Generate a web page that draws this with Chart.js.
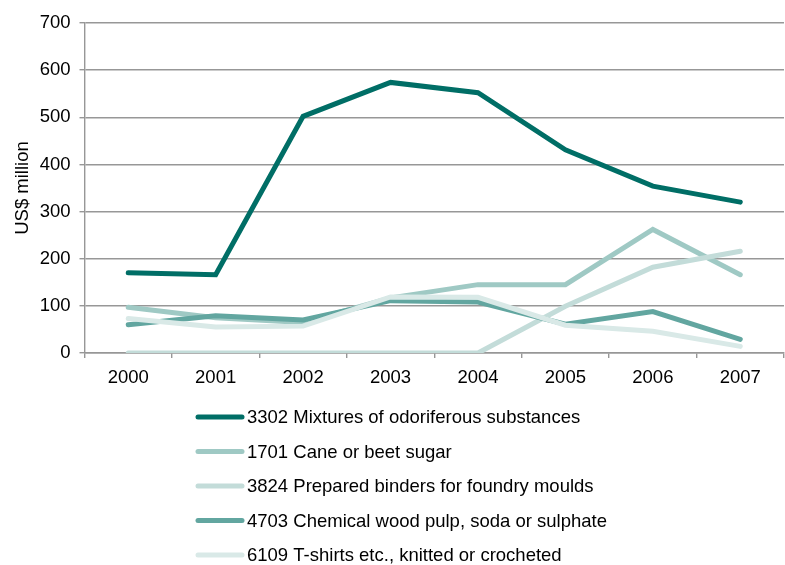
<!DOCTYPE html>
<html>
<head>
<meta charset="utf-8">
<script src="https://cdn.jsdelivr.net/npm/chart.js@4"></script>
<style>
  html, body { margin: 0; padding: 0; background: #ffffff; }
  #wrap { width: 785px; height: 565px; position: relative; }
</style>
</head>
<body>
<div id="wrap"><canvas id="chart" width="785" height="565"></canvas></div>
<script>
// Export values by product, US$ million
const years = ['2000', '2001', '2002', '2003', '2004', '2005', '2006', '2007'];

const seriesLabels = [
  '3302 Mixtures of odoriferous substances',
  '1701 Cane or beet sugar',
  '3824 Prepared binders for foundry moulds',
  '4703 Chemical wood pulp, soda or sulphate',
  '6109 T-shirts etc., knitted or crocheted'
];

const odoriferous = [170, 166, 502, 574, 552, 431, 354, 320];
const caneSugar   = [97, 75, 65, 117, 145, 145, 262, 166];
const binders     = [0, 0, 0, 0, 0, 99, 182, 216];
const woodPulp    = [60, 79, 70, 111, 108, 61, 88, 29];
const tShirts     = [73, 55, 57, 119, 118, 59, 46, 14];

const yTicks = [0, 100, 200, 300, 400, 500, 600, 700];

const seriesColors = ['#006e66', '#9fc9c4', '#c3dcd9', '#62a6a0', '#d9e9e7'];
const seriesValues = [odoriferous, caneSugar, binders, woodPulp, tShirts];
// later series sit on top of earlier ones
const drawOrder = [4, 3, 2, 1, 0];

const FONT = 'Arial, "Liberation Sans", sans-serif';
const FONT_SIZE = 18.5;
const AXIS_GREY = '#979797';

// Single-column legend under the plot
const columnLegend = {
  id: 'columnLegend',
  afterDraw(chart, args, opts) {
    const ctx = chart.ctx;
    ctx.save();
    ctx.font = opts.fontSize + 'px ' + FONT;
    ctx.textBaseline = 'middle';
    ctx.textAlign = 'left';
    chart.data.datasets.forEach((ds, i) => {
      const y = opts.top + i * opts.rowGap;
      ctx.strokeStyle = ds.borderColor;
      ctx.lineWidth = ds.borderWidth;
      ctx.lineCap = 'round';
      ctx.beginPath();
      ctx.moveTo(opts.left, y);
      ctx.lineTo(opts.left + opts.lineLength, y);
      ctx.stroke();
      ctx.fillStyle = '#000000';
      ctx.fillText(ds.label, opts.left + opts.lineLength + opts.textGap, y + 1);
    });
    ctx.restore();
  }
};

const datasets = seriesLabels.map((label, i) => ({
  label: label,
  data: seriesValues[i],
  borderColor: seriesColors[i],
  backgroundColor: seriesColors[i],
  borderWidth: 5,
  borderCapStyle: 'round',
  borderJoinStyle: 'miter',
  pointRadius: 0,
  pointHoverRadius: 0,
  tension: 0,
  fill: false,
  order: drawOrder[i]
}));

new Chart(document.getElementById('chart'), {
  type: 'line',
  data: { labels: years, datasets: datasets },
  plugins: [columnLegend],
  options: {
    responsive: false,
    animation: false,
    events: [],
    layout: { padding: { left: 0, right: 1, top: 23, bottom: 0 } },
    plugins: {
      legend: { display: false },
      tooltip: { enabled: false },
      columnLegend: { left: 198, top: 417, rowGap: 34.5, lineLength: 44, textGap: 5, fontSize: FONT_SIZE }
    },
    scales: {
      x: {
        type: 'category',
        offset: true,
        afterFit(scale) { scale.height = 212; },
        grid: {
          offset: true,
          drawOnChartArea: false,
          drawTicks: true,
          tickLength: 5,
          color: AXIS_GREY,
          lineWidth: 1.4
        },
        border: { display: true, color: AXIS_GREY, width: 1.4 },
        ticks: { color: '#000000', font: { family: FONT, size: FONT_SIZE }, padding: 9, maxRotation: 0 }
      },
      y: {
        min: 0,
        max: 700,
        afterFit(scale) { scale.width = 84.5; },
        afterBuildTicks(scale) { scale.ticks = yTicks.map(v => ({ value: v })); },
        grid: {
          drawOnChartArea: true,
          drawTicks: true,
          tickLength: 5,
          color: AXIS_GREY,
          lineWidth: 1.4
        },
        border: { display: true, color: AXIS_GREY, width: 1.4 },
        ticks: { color: '#000000', font: { family: FONT, size: FONT_SIZE }, padding: 9 },
        title: {
          display: true,
          text: 'US$ million',
          color: '#000000',
          font: { family: FONT, size: FONT_SIZE },
          padding: { top: 12, bottom: 0 }
        }
      }
    }
  }
});
</script>
</body>
</html>
